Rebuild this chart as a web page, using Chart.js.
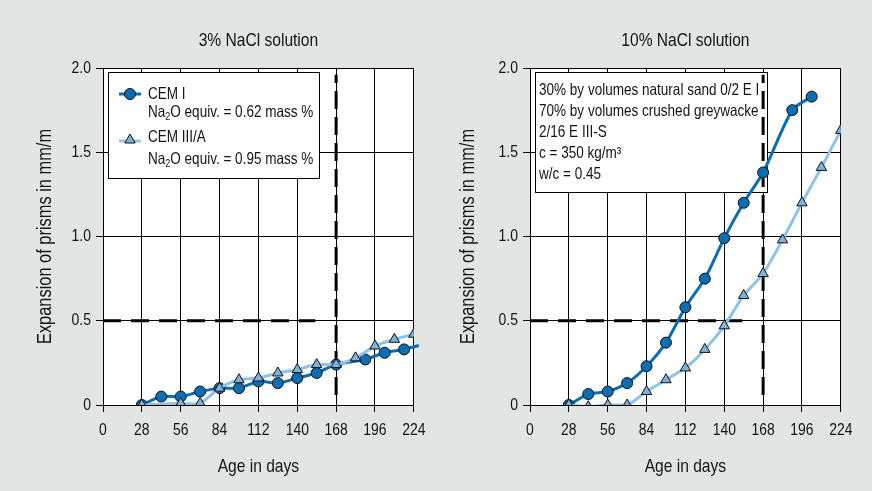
<!DOCTYPE html>
<html>
<head>
<meta charset="utf-8">
<script src="https://cdn.jsdelivr.net/npm/chart.js@4.4.1/dist/chart.umd.min.js"></script>
<style>
  body { margin: 0; background: #e3e4e4; width: 872px; height: 491px; overflow: hidden; position: relative; }
  canvas { position: absolute; top: 0; }
</style>
</head>
<body>
<canvas id="left" width="436" height="491" style="left:0"></canvas>
<canvas id="right" width="436" height="491" style="left:427px"></canvas>
<script>
// axis ticks
var dayTicks = [0, 28, 56, 84, 112, 140, 168, 196, 224];
var expansionTicks = [0, 0.5, 1.0, 1.5, 2.0];

// 3% NaCl solution
var daysCem1Low = [28, 42, 56, 70, 84, 98, 112, 126, 140, 154, 168, 189, 203, 217, 231];
var cem1Low = [0, 0.05, 0.05, 0.08, 0.10, 0.10, 0.14, 0.13, 0.16, 0.19, 0.24, 0.27, 0.31, 0.33, 0.36];
var daysCem3Low = [28, 56, 70, 84, 98, 112, 126, 140, 154, 168, 182, 196, 210, 224];
var cem3Low = [0, 0.01, 0.01, 0.10, 0.15, 0.16, 0.19, 0.21, 0.24, 0.24, 0.28, 0.35, 0.39, 0.42];

// 10% NaCl solution
var daysCem1High = [28, 42, 56, 70, 84, 98, 112, 126, 140, 154, 168, 189, 203];
var cem1High = [0, 0.065, 0.08, 0.13, 0.23, 0.37, 0.58, 0.75, 0.99, 1.20, 1.38, 1.75, 1.83];
var daysCem3High = [28, 42, 56, 70, 84, 98, 112, 126, 140, 154, 168, 182, 196, 210, 224];
var cem3High = [0, -0.01, 0, 0, 0.08, 0.15, 0.22, 0.33, 0.47, 0.65, 0.78, 0.98, 1.20, 1.41, 1.63];

// limit lines (0.5 mm/m after 168 days)
var limitLineDays = [0, 153];
var limitLineValues = [0.5, 0.5];
var limitDayDays = [168, 168];
var limitDayValues = [0.06, 1.96];

var notesLines = ['30% by volumes natural sand 0/2 E I', '70% by volumes crushed greywacke',
  '2/16 E III-S', 'c = 350 kg/m\u00b3', 'w/c = 0.45'];

var FONT = "'Liberation Sans', Arial, sans-serif";
var NARROW = 0.82; // squeeze text to a condensed look
var DARK = '#0b6db2';
var LIGHT = '#8ec2e6';
var TRI = '#7db3db';
var INK = '#141414';

function zip(xs, ys) {
  return xs.map(function (x, i) { return { x: x, y: ys[i] }; });
}

// all text on the canvas is drawn horizontally condensed
function condense(canvas) {
  var ctx = canvas.getContext('2d');
  var fill = ctx.fillText;
  ctx.fillText = function (text, x, y) {
    this.save();
    this.translate(x, y);
    this.scale(NARROW, 1);
    fill.call(this, text, 0, 0);
    this.restore();
  };
}

// text with a subscript "2" after "Na"
function naText(ctx, x, y, rest) {
  ctx.font = '16.5px ' + FONT;
  ctx.fillText('Na', x, y);
  x += ctx.measureText('Na').width * NARROW;
  ctx.font = '11px ' + FONT;
  ctx.fillText('2', x, y + 5);
  x += ctx.measureText('2').width * NARROW;
  ctx.font = '16.5px ' + FONT;
  ctx.fillText(rest, x, y);
}

var decor = {
  id: 'decor',
  beforeDraw: function (chart) {
    var a = chart.chartArea, ctx = chart.ctx;
    ctx.save();
    ctx.fillStyle = '#fff';
    ctx.fillRect(a.left, a.top, a.right - a.left, a.bottom - a.top);
    ctx.restore();
  },
  beforeDatasetsDraw: function (chart, args, opts) {
    var a = chart.chartArea, ctx = chart.ctx;
    ctx.save();
    ctx.textAlign = 'left';
    ctx.textBaseline = 'middle';
    if (opts.legend) {
      ctx.fillStyle = '#fff';
      ctx.fillRect(a.left + 5, a.top + 4, 211, 106);
      ctx.strokeStyle = '#000';
      ctx.lineWidth = 1;
      ctx.strokeRect(a.left + 5.5, a.top + 4.5, 211, 106);
      // CEM I sample
      ctx.lineWidth = 3;
      ctx.strokeStyle = DARK;
      ctx.beginPath(); ctx.moveTo(a.left + 16, a.top + 26); ctx.lineTo(a.left + 38, a.top + 26); ctx.stroke();
      ctx.fillStyle = DARK; ctx.strokeStyle = '#111'; ctx.lineWidth = 1;
      Chart.helpers.drawPoint(ctx, { pointStyle: 'circle', radius: 5.5, rotation: 0, borderWidth: 1 }, a.left + 27, a.top + 26);
      // CEM III/A sample
      ctx.lineWidth = 3;
      ctx.strokeStyle = LIGHT;
      ctx.beginPath(); ctx.moveTo(a.left + 16, a.top + 73); ctx.lineTo(a.left + 38, a.top + 73); ctx.stroke();
      ctx.fillStyle = TRI; ctx.strokeStyle = '#111'; ctx.lineWidth = 1;
      Chart.helpers.drawPoint(ctx, { pointStyle: 'triangle', radius: 6, rotation: 0, borderWidth: 1 }, a.left + 27, a.top + 72);
      ctx.fillStyle = INK;
      ctx.font = '16.5px ' + FONT;
      ctx.fillText('CEM I', a.left + 45, a.top + 26);
      naText(ctx, a.left + 45, a.top + 44, 'O equiv. = 0.62 mass %');
      ctx.font = '16.5px ' + FONT;
      ctx.fillText('CEM III/A', a.left + 45, a.top + 69);
      naText(ctx, a.left + 45, a.top + 91, 'O equiv. = 0.95 mass %');
    }
    if (opts.notes) {
      ctx.fillStyle = '#fff';
      ctx.fillRect(a.left + 5, a.top + 4, 232, 120);
      ctx.strokeStyle = '#000';
      ctx.lineWidth = 1;
      ctx.strokeRect(a.left + 5.5, a.top + 4.5, 232, 120);
      ctx.fillStyle = INK;
      ctx.font = '16.5px ' + FONT;
      opts.notes.forEach(function (line, i) {
        ctx.fillText(line, a.left + 9, a.top + 22 + i * 21.2);
      });
    }
    ctx.restore();
  },
  afterDraw: function (chart, args, opts) {
    var a = chart.chartArea, ctx = chart.ctx;
    ctx.save();
    ctx.fillStyle = INK;
    ctx.font = '19px ' + FONT;
    ctx.textAlign = 'center';
    ctx.textBaseline = 'middle';
    ctx.fillText(opts.title, (a.left + a.right) / 2, a.top - 27);
    ctx.restore();
  }
};

function makeChart(id, title, c1Days, c1Vals, c3Days, c3Vals, extra) {
  var canvas = document.getElementById(id);
  condense(canvas);
  var c1Radius = c1Days.map(function (d) { return d > 224 ? 0 : 5.5; });
  return new Chart(canvas, {
    type: 'line',
    data: {
      datasets: [{
        label: 'CEM III/A',
        data: zip(c3Days, c3Vals),
        borderColor: LIGHT,
        borderWidth: 3,
        backgroundColor: TRI,
        pointStyle: 'triangle',
        pointRadius: 6,
        pointBackgroundColor: TRI,
        pointBorderColor: '#111',
        pointBorderWidth: 1,
        tension: 0.25
      }, {
        label: 'CEM I',
        data: zip(c1Days, c1Vals),
        borderColor: DARK,
        borderWidth: 3,
        backgroundColor: DARK,
        pointRadius: c1Radius,
        pointBackgroundColor: DARK,
        pointBorderColor: '#111',
        pointBorderWidth: 1,
        tension: 0.25,
        clip: { left: 0, top: 0, right: 5, bottom: 0 }
      }, {
        label: 'limit',
        data: zip(limitLineDays, limitLineValues),
        borderColor: '#000',
        borderWidth: 3,
        borderDash: [18, 10],
        pointRadius: 0
      }, {
        label: 'age',
        data: zip(limitDayDays, limitDayValues),
        borderColor: '#000',
        borderWidth: 3,
        borderDash: [18, 8],
        pointRadius: 0
      }]
    },
    options: {
      responsive: false,
      animation: false,
      layout: { padding: { top: 68, right: 19, bottom: 0, left: 0 } },
      scales: {
        x: {
          type: 'linear',
          min: 0,
          max: 224,
          afterBuildTicks: function (s) { s.ticks = dayTicks.map(function (v) { return { value: v }; }); },
          afterFit: function (s) { s.height = 86; },
          ticks: { color: INK, font: { family: FONT, size: 17 }, padding: 8, autoSkip: false, maxRotation: 0 },
          grid: { color: '#000', lineWidth: 1, tickLength: 7, tickColor: '#000' },
          border: { color: '#000', width: 1 },
          title: { display: true, text: 'Age in days', color: INK, font: { family: FONT, size: 19 }, padding: { top: 0, bottom: 13 } }
        },
        y: {
          min: 0,
          max: 2,
          afterBuildTicks: function (s) { s.ticks = expansionTicks.map(function (v) { return { value: v }; }); },
          afterFit: function (s) { s.width = 103; },
          ticks: {
            color: INK, font: { family: FONT, size: 17 }, padding: 5,
            callback: function (v) { return v === 0 ? '0' : v.toFixed(1); }
          },
          grid: { color: '#000', lineWidth: 1, tickLength: 7, tickColor: '#000' },
          border: { color: '#000', width: 1 },
          title: { display: true, text: 'Expansion of prisms in mm/m', color: INK, font: { family: FONT, size: 20 }, padding: { top: extra.yTitlePad, bottom: 0 } }
        }
      },
      plugins: {
        legend: { display: false },
        tooltip: { enabled: false },
        decor: { title: title, legend: extra.legend, notes: extra.notes }
      }
    },
    plugins: [decor]
  });
}

makeChart('left', '3% NaCl solution', daysCem1Low, cem1Low, daysCem3Low, cem3Low, { legend: true, yTitlePad: 33 });
makeChart('right', '10% NaCl solution', daysCem1High, cem1High, daysCem3High, cem3High, { notes: notesLines, yTitlePad: 29.5 });
</script>
</body>
</html>
